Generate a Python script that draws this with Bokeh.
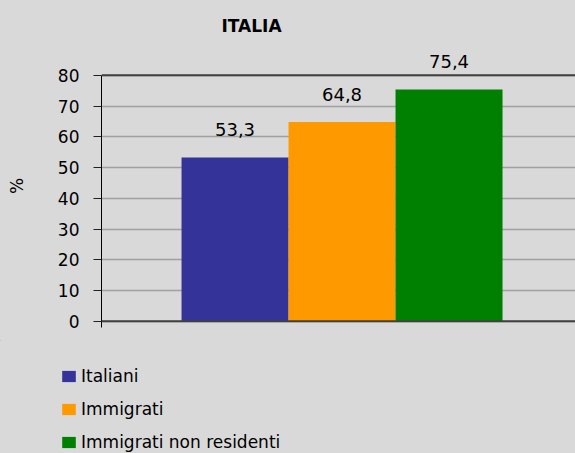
from bokeh.plotting import figure
from bokeh.layouts import column
from bokeh.models import ColumnDataSource, Range1d, FixedTicker, Span, Legend, LegendItem
from bokeh.core.properties import value
from bokeh.embed import file_html
from bokeh.resources import INLINE

# ---- data ----
title_text = "ITALIA"
categories = ["Italiani", "Immigrati", "Immigrati non residenti"]
values = [53.3, 64.8, 75.4]
value_labels = ["53,3", "64,8", "75,4"]
colors = ["#333399", "#ff9900", "#008000"]
y_ticks = [0, 10, 20, 30, 40, 50, 60, 70, 80]
y_label = "%"

FONT = "DejaVu Sans"
BG = "#d9d9d9"

xpos = [i - 1 for i in range(len(categories))]
src = ColumnDataSource(dict(x=xpos, top=values, lab=value_labels,
                            color=colors, cat=categories))

p = figure(width=575, height=340, output_backend="svg", toolbar_location=None,
           x_range=Range1d(-2.248, 2.182), y_range=Range1d(-2, 90),
           min_border_left=101, min_border_right=0, min_border_top=44,
           min_border_bottom=13)
p.frame_align = False
p.styles = {"background-color": BG}
p.background_fill_color = BG
p.border_fill_color = BG
p.outline_line_color = None

p.title.text = title_text
p.title.align = "left"
p.title.offset = 120
p.title.standoff = 18
p.title.text_font = FONT
p.title.text_font_size = "17px"
p.title.text_font_style = "bold"
p.title.text_color = "black"

# grid
p.xgrid.visible = False
p.ygrid.ticker = FixedTicker(ticks=y_ticks)
p.ygrid.grid_line_color = "#a0a0a0"
p.ygrid.grid_line_width = 1.5
p.ygrid.bounds = (0, 80)
p.add_layout(Span(location=80, dimension="width", line_color="#404040", line_width=2))

# bars
for i in range(len(categories)):
    p.vbar(x=[xpos[i]], top=[values[i]], bottom=0, width=1.0,
           fill_color=colors[i], line_color=None)

# baseline (x axis line at 0)
p.add_layout(Span(location=0, dimension="width", line_color="#404040", line_width=2))

p.text(x="x", y="top", text="lab", source=src, text_align="center",
       text_baseline="bottom", y_offset=-21, text_font=value(FONT),
       text_font_size="18px", text_color="black")

# axes
p.xaxis.visible = False
p.yaxis.ticker = FixedTicker(ticks=y_ticks)
p.yaxis.bounds = (-2, 80)
p.yaxis.axis_line_color = "black"
p.yaxis.major_tick_out = 8
p.yaxis.major_tick_in = 0
p.yaxis.minor_tick_line_color = None
p.yaxis.major_tick_line_color = "#202020"
p.yaxis.major_label_text_font = FONT
p.yaxis.major_label_text_font_size = "17px"
p.yaxis.major_label_text_color = "black"
p.yaxis.major_label_standoff = 14
p.yaxis.axis_label = y_label
p.yaxis.axis_label_text_font = FONT
p.yaxis.axis_label_text_font_size = "17px"
p.yaxis.axis_label_text_font_style = "normal"
p.yaxis.axis_label_text_color = "black"
p.yaxis.axis_label_standoff = 28

# ---- legend strip (second figure, same chart) ----
p2 = figure(width=575, height=113, output_backend="svg", toolbar_location=None,
            x_axis_type=None, y_axis_type=None,
            x_range=Range1d(10, 11), y_range=Range1d(-10, -9),
            min_border_left=0, min_border_right=0, min_border_top=0,
            min_border_bottom=0)
p2.frame_align = False
p2.styles = {"background-color": BG}
p2.background_fill_color = BG
p2.border_fill_color = BG
p2.outline_line_color = None
p2.grid.visible = False

# proxy bars (outside the visible range) that carry the legend swatches
leg_renderers = [p2.vbar(x=[xpos[i]], top=[values[i]], bottom=0, width=1.0,
                         fill_color=colors[i], line_color=None)
                 for i in range(len(categories))]

legend = Legend(items=[LegendItem(label=categories[i], renderers=[leg_renderers[i]])
                       for i in range(len(categories))],
                location=(60, 1), orientation="vertical")
legend.background_fill_alpha = 0
legend.border_line_color = None
legend.padding = 0
legend.margin = 0
legend.spacing = 13
legend.glyph_width = 17
legend.glyph_height = 14
legend.label_height = 20
legend.label_standoff = 4
legend.label_text_font = FONT
legend.label_text_font_size = "17px"
legend.label_text_color = "black"
p2.add_layout(legend, "center")

layout = column(p, p2, spacing=0)
layout.styles = {"background-color": BG}
html = file_html(layout, INLINE)
html = html.replace("<body>", '<body style="margin:0;background:%s">' % BG, 1)
open("out.html", "w").write(html)
